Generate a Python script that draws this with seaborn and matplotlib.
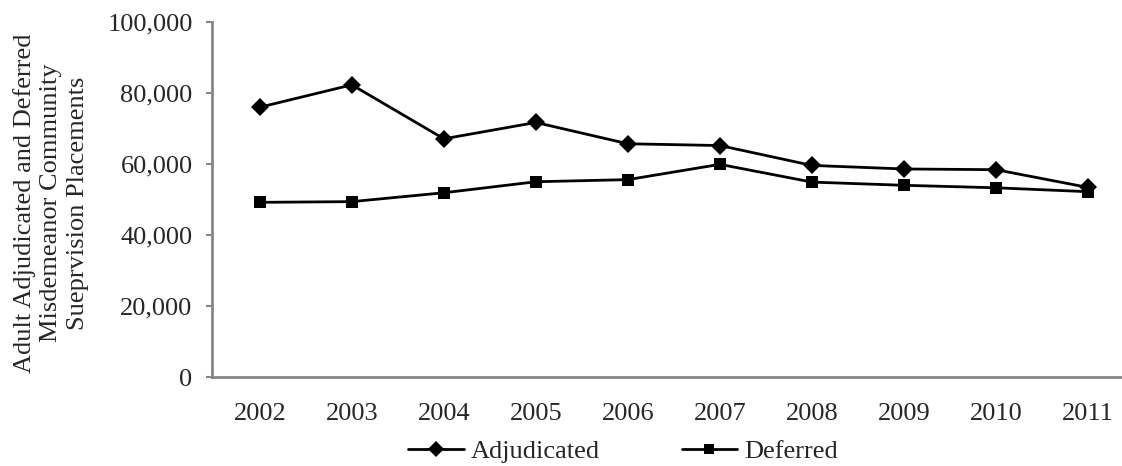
import matplotlib
matplotlib.use("Agg")
import matplotlib.pyplot as plt
import seaborn as sns
import pandas as pd
from matplotlib.ticker import FuncFormatter
from matplotlib.lines import Line2D

years = ["2002", "2003", "2004", "2005", "2006", "2007", "2008", "2009", "2010", "2011"]
adjudicated = [76000, 82300, 67100, 71700, 65700, 65200, 59600, 58600, 58400, 53400]
deferred = [49200, 49400, 51900, 55000, 55600, 59900, 54900, 54000, 53300, 52200]
series_names = ["Adjudicated", "Deferred"]
y_ticks = [0, 20000, 40000, 60000, 80000, 100000]
y_label = "Adult Adjudicated and Deferred\nMisdemeanor Community\nSueprvision Placements"

df = pd.DataFrame({
    "pos": list(range(len(years))) * 2,
    "value": adjudicated + deferred,
    "series": [series_names[0]] * len(years) + [series_names[1]] * len(years),
})

sns.set_theme(style="white")
plt.rcParams["font.family"] = ["Liberation Serif", "DejaVu Serif"]

W, H = 1122, 466
fig = plt.figure(figsize=(W / 100, H / 100), dpi=100)
ax = fig.add_axes([212 / W, 1 - 377 / H, (W - 212) / W, (377 - 22) / H])

sns.lineplot(
    data=df, x="pos", y="value", hue="series", style="series",
    palette={series_names[0]: "black", series_names[1]: "black"},
    markers={series_names[0]: "D", series_names[1]: "s"},
    dashes=False, markersize=9, linewidth=2, ax=ax, legend=False,
    markeredgewidth=0,
)
for line in ax.get_lines():
    if line.get_marker() == "D":
        line.set_markersize(9.5)

ax.set_xlim(-0.52, 9.37)
ax.set_ylim(0, 100000)
ax.set_xticks(range(len(years)))
ax.set_xticklabels(years)
ax.set_yticks(y_ticks)
ax.yaxis.set_major_formatter(FuncFormatter(lambda v, p: f"{int(v):,}"))
ax.set_xlabel("")
ax.set_ylabel("")

# three-line axis title, centred left of the tick labels
fig.text(51 / W, 1 - 203 / H, y_label, rotation=90, ha="center", va="center",
         multialignment="center", fontsize=19, linespacing=1.25)

for side in ["top", "right"]:
    ax.spines[side].set_visible(False)
for side in ["left", "bottom"]:
    ax.spines[side].set_color("#868686")
    ax.spines[side].set_linewidth(2)

ax.tick_params(axis="y", which="major", left=True, length=4, width=1.5,
               color="#868686", labelsize=19, pad=10)
ax.tick_params(axis="x", which="major", bottom=False, labelsize=19, pad=13)

handles = [
    Line2D([], [], color="black", lw=2, marker="D", markersize=8, markeredgewidth=0),
    Line2D([], [], color="black", lw=2, marker="s", markersize=7, markeredgewidth=0),
]
fig.legend(handles, series_names, loc="center", bbox_to_anchor=(623 / W, 1 - 451 / H),
           ncol=2, frameon=False, fontsize=19, handlelength=2.1, handletextpad=0.27,
           columnspacing=3.1, borderpad=0)

fig.savefig("out.png", dpi=100)
